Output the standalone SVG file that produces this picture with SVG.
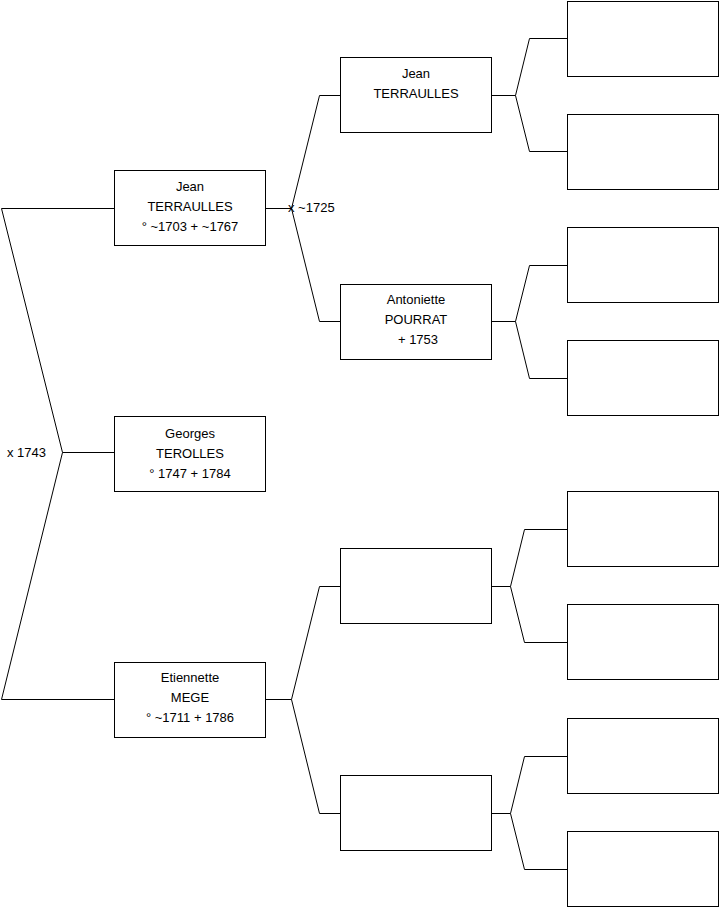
<svg xmlns="http://www.w3.org/2000/svg" width="719" height="908" viewBox="0 0 719 908">
<style>
.box{fill:#fff;stroke:#000;stroke-width:1}
.ln{fill:none;stroke:#000;stroke-width:1}
text{font-family:"Liberation Sans",Arial,sans-serif;font-size:13px;fill:#000}
.c{text-anchor:middle}
</style>
<rect width="719" height="908" fill="#fff"/>
<g id="connectors">
<path class="ln" d="M114.5,208.5 H1.5 L62.5,452.5 L1.5,699.5 H114.5 M62.5,452.5 H114.5"/>
<path class="ln" d="M265.5,208.5 H291.5 M340.5,95.5 H319.5 L291.5,208.5 L319.5,321.5 H340.5"/>
<path class="ln" d="M265.5,699.5 H291.5 M340.5,586.5 H319.5 L291.5,699.5 L319.5,813.5 H340.5"/>
<path class="ln" d="M491.5,95.5 H515.5 M567.5,38.5 H529.5 L515.5,95.5 L529.5,151.5 H567.5"/>
<path class="ln" d="M491.5,321.5 H515.5 M567.5,265.5 H529.5 L515.5,321.5 L529.5,378.5 H567.5"/>
<path class="ln" d="M491.5,586.5 H510.5 M567.5,529.5 H524.5 L510.5,586.5 L524.5,642.5 H567.5"/>
<path class="ln" d="M491.5,813.5 H510.5 M567.5,756.5 H524.5 L510.5,813.5 L524.5,869.5 H567.5"/>
<text x="7" y="457">x 1743</text>
<text x="288" y="212">x ~1725</text>
</g>
<g id="georges">
<rect class="box" x="114.5" y="416.5" width="151" height="75"/>
<text class="c" x="190" y="438">Georges</text>
<text class="c" x="190" y="458">TEROLLES</text>
<text class="c" x="190" y="478">° 1747 + 1784</text>
</g>
<g id="jean1">
<rect class="box" x="114.5" y="170.5" width="151" height="75"/>
<text class="c" x="190" y="191">Jean</text>
<text class="c" x="190" y="211">TERRAULLES</text>
<text class="c" x="190" y="231">° ~1703 + ~1767</text>
</g>
<g id="etiennette">
<rect class="box" x="114.5" y="662.5" width="151" height="75"/>
<text class="c" x="190" y="682">Etiennette</text>
<text class="c" x="190" y="702">MEGE</text>
<text class="c" x="190" y="722">° ~1711 + 1786</text>
</g>
<g id="jean2">
<rect class="box" x="340.5" y="57.5" width="151" height="75"/>
<text class="c" x="416" y="78">Jean</text>
<text class="c" x="416" y="98">TERRAULLES</text>
</g>
<g id="antoniette">
<rect class="box" x="340.5" y="284.5" width="151" height="75"/>
<text class="c" x="416" y="304">Antoniette</text>
<text class="c" x="416" y="324">POURRAT</text>
<text class="c" x="418" y="344">+ 1753</text>
</g>
<g id="p3"><rect class="box" x="340.5" y="548.5" width="151" height="75"/></g>
<g id="p4"><rect class="box" x="340.5" y="775.5" width="151" height="75"/></g>
<g id="g1"><rect class="box" x="567.5" y="1.5" width="151" height="75"/></g>
<g id="g2"><rect class="box" x="567.5" y="114.5" width="151" height="75"/></g>
<g id="g3"><rect class="box" x="567.5" y="227.5" width="151" height="75"/></g>
<g id="g4"><rect class="box" x="567.5" y="340.5" width="151" height="75"/></g>
<g id="g5"><rect class="box" x="567.5" y="491.5" width="151" height="75"/></g>
<g id="g6"><rect class="box" x="567.5" y="604.5" width="151" height="75"/></g>
<g id="g7"><rect class="box" x="567.5" y="718.5" width="151" height="75"/></g>
<g id="g8"><rect class="box" x="567.5" y="831.5" width="151" height="75"/></g>
</svg>
